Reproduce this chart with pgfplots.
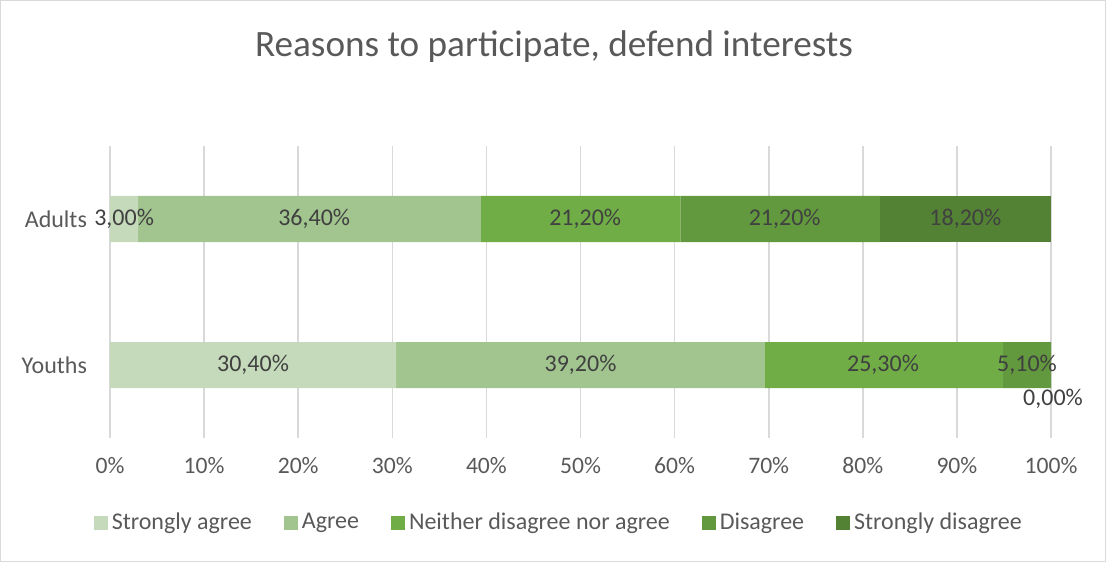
\documentclass[border=0pt]{standalone}
\usepackage{pgfplots}
\pgfplotsset{compat=1.18}
\usepackage{fontspec}
\setmainfont{Carlito}
\definecolor{sagree}{RGB}{197,217,187}
\definecolor{agree}{RGB}{162,196,143}
\definecolor{neither}{RGB}{112,173,71}
\definecolor{disagree}{RGB}{98,152,62}
\definecolor{sdisagree}{RGB}{84,130,53}
\definecolor{txt}{RGB}{89,89,89}
\definecolor{lbl}{RGB}{64,64,64}
\definecolor{gridc}{RGB}{217,217,217}
\newcommand{\tfont}{\fontsize{11.8}{14}\selectfont}
\newcommand{\lfont}{\fontsize{12}{14}\selectfont}
\begin{document}
\begin{tikzpicture}
\useasboundingbox (0,0) rectangle (553pt,281pt);
\draw[gridc,line width=0.6pt] (0.3pt,0.3pt) rectangle (552.7pt,280.7pt);
\node[text=txt,font=\fontsize{18.6}{22}\selectfont] at (277pt,257.5pt) {Reasons to participate, defend interests};
\pgfplotsset{common/.style={
  scale only axis, width=470.5pt, height=146pt,
  at={(55pt,62pt)}, anchor=south west,
  xmin=0, xmax=100, ymin=-0.5, ymax=1.5,
}}
\begin{axis}[common,
  xbar stacked, bar width=23pt,
  axis line style={draw=none},
  xtick={0,10,...,100},
  xticklabel={\pgfmathprintnumber{\tick}\%},
  xticklabel style={text=txt,font=\tfont,yshift=-6pt},
  ytick={0,1}, yticklabels={Youths,Adults},
  yticklabel style={text=txt,font=\lfont,xshift=-8pt},
  major tick length=0pt,
  xmajorgrids, grid style={gridc,line width=0.8pt},
  legend columns=5,
  legend style={at={(0.478,-0.29)},anchor=center,draw=none,fill=none,
    font=\lfont,text=txt,
    /tikz/every even column/.append style={column sep=14pt}},
  legend image code/.code={\fill[#1] (0pt,-3.5pt) rectangle (7pt,3.5pt);},
  /pgf/number format/assume math mode=true,
]
\addplot[fill=sagree,draw=none] coordinates {(30.4,0) (3.0,1)};
\addplot[fill=agree,draw=none] coordinates {(39.2,0) (36.4,1)};
\addplot[fill=neither,draw=none] coordinates {(25.3,0) (21.2,1)};
\addplot[fill=disagree,draw=none] coordinates {(5.1,0) (21.2,1)};
\addplot[fill=sdisagree,draw=none] coordinates {(0.0,0) (18.2,1)};
\legend{Strongly agree,Agree,Neither disagree nor agree,Disagree,Strongly disagree}
\end{axis}
\begin{axis}[common, hide axis]
\addplot[only marks, mark=none, nodes near coords, point meta=explicit symbolic,
  every node near coord/.append style={anchor=center,text=lbl,font=\lfont}]
  coordinates {
  (1.5,1)[3,00\%] (21.7,1)[36,40\%] (50.5,1)[21,20\%] (71.7,1)[21,20\%] (90.9,1)[18,20\%]
  (15.2,0)[30,40\%] (50.0,0)[39,20\%] (82.15,0)[25,30\%] (97.45,0)[5,10\%]
  };
\addplot[only marks, mark=none, nodes near coords, point meta=explicit symbolic,
  every node near coord/.append style={anchor=center,text=lbl,font=\lfont,yshift=-17pt,xshift=1pt}]
  coordinates {(100,0)[0,00\%]};
\end{axis}
\end{tikzpicture}
\end{document}
